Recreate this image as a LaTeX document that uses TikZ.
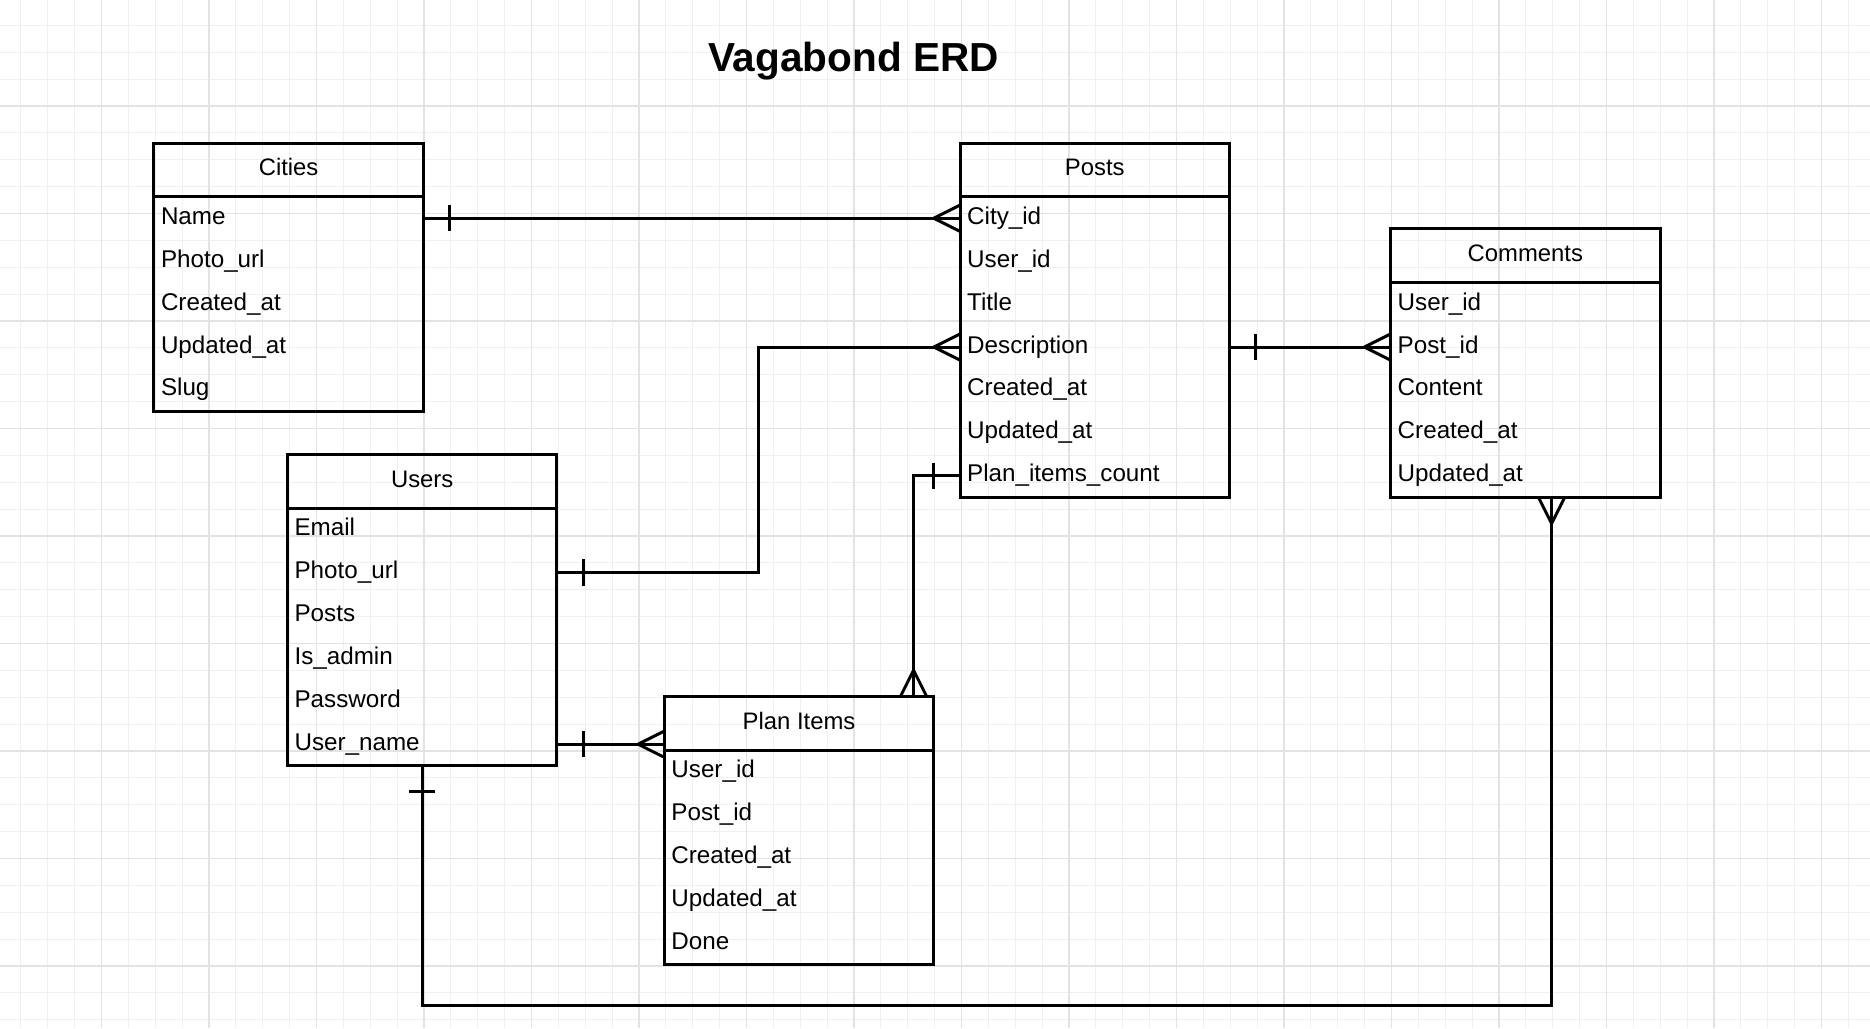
\documentclass[tikz,border=0pt]{standalone}
\usepackage{fontspec}
\setmainfont{Liberation Sans}
\usetikzlibrary{positioning,calc}

\tikzset{
  entity/.style={draw, line width=2.5pt, minimum width=226pt, minimum height=45pt,
    inner sep=0pt, outer sep=0pt, text height=14pt, text depth=4pt,
    font=\fontsize{20}{24}\selectfont},
  field/.style={text width=214pt, align=left, inner xsep=6pt, inner ysep=0pt,
    outer sep=0pt, minimum height=36pt, text height=14pt, text depth=4pt,
    font=\fontsize{20.3}{24}\selectfont},
  rel/.style={line width=2.5pt},
  gridminor/.style={line width=0.8pt, black!6},
  gridmajor/.style={line width=0.9pt, black!11},
  crow/.pic={\draw[rel] (-22,0) -- (0,11) (-22,0) -- (0,-11);},
  one/.pic={\draw[rel] (-22,-11) -- (-22,11);},
}

\begin{document}
\begin{tikzpicture}[x=1pt, y=-1pt]
        \useasboundingbox (0,0) rectangle (1568,862);
        \fill[white] (0,0) rectangle (1568,862);

        % background grid
        \foreach \i in {0,...,68} \draw[gridminor] ({17.5+22.535*\i},0) -- ({17.5+22.535*\i},862);
        \foreach \i in {1,...,38} \draw[gridminor] (0,{-1.26+22.535*\i}) -- (1568,{-1.26+22.535*\i});
        \foreach \i in {0,...,16} \draw[gridmajor] ({85.1+90.14*\i},0) -- ({85.1+90.14*\i},862);
        \foreach \i in {0,...,8} \draw[gridmajor] (0,{88.88+90.14*\i}) -- (1568,{88.88+90.14*\i});

        \node[font=\fontsize{34}{40}\selectfont\bfseries, anchor=base] (title) at (715.5,60) {Vagabond ERD};

        % Cities
        \node[entity] (cities) at (242,142.5) {Cities};
        \node[field, below=0pt of cities] (c1) {Name};
        \node[field, below=0pt of c1] (c2) {Photo\_url};
        \node[field, below=0pt of c2] (c3) {Created\_at};
        \node[field, below=0pt of c3] (c4) {Updated\_at};
        \node[field, below=0pt of c4] (c5) {Slug};
        \draw[rel] (cities.south west) rectangle (c5.south east);

        % Posts
        \node[entity] (posts) at (918,142.5) {Posts};
        \node[field, below=0pt of posts] (p1) {City\_id};
        \node[field, below=0pt of p1] (p2) {User\_id};
        \node[field, below=0pt of p2] (p3) {Title};
        \node[field, below=0pt of p3] (p4) {Description};
        \node[field, below=0pt of p4] (p5) {Created\_at};
        \node[field, below=0pt of p5] (p6) {Updated\_at};
        \node[field, below=0pt of p6] (p7) {Plan\_items\_count};
        \draw[rel] (posts.south west) rectangle (p7.south east);

        % Comments
        \node[entity] (comments) at (1279,214.5) {Comments};
        \node[field, below=0pt of comments] (m1) {User\_id};
        \node[field, below=0pt of m1] (m2) {Post\_id};
        \node[field, below=0pt of m2] (m3) {Content};
        \node[field, below=0pt of m3] (m4) {Created\_at};
        \node[field, below=0pt of m4] (m5) {Updated\_at};
        \draw[rel] (comments.south west) rectangle (m5.south east);

        % Users
        \node[entity] (users) at (354,403.5) {Users};
        \node[field, below=0pt of users] (u1) {Email};
        \node[field, below=0pt of u1] (u2) {Photo\_url};
        \node[field, below=0pt of u2] (u3) {Posts};
        \node[field, below=0pt of u3] (u4) {Is\_admin};
        \node[field, below=0pt of u4] (u5) {Password};
        \node[field, below=0pt of u5] (u6) {User\_name};
        \draw[rel] (users.south west) rectangle (u6.south east);

        % Plan Items
        \node[entity] (items) at (670,606.5) {Plan Items};
        \node[field, below=0pt of items] (i1) {User\_id};
        \node[field, below=0pt of i1] (i2) {Post\_id};
        \node[field, below=0pt of i2] (i3) {Created\_at};
        \node[field, below=0pt of i3] (i4) {Updated\_at};
        \node[field, below=0pt of i4] (i5) {Done};
        \draw[rel] (items.south west) rectangle (i5.south east);

        % relations
        \draw[rel] (c1.east) -- (p1.west);
        \pic[rotate=180] at (c1.east) {one};
        \pic at (p1.west) {crow};

        \draw[rel] (u2.east) -- ++(169,0) |- (p4.west);
        \pic[rotate=180] at (u2.east) {one};
        \pic at (p4.west) {crow};

        \draw[rel] (p4.east) -- (m2.west);
        \pic[rotate=180] at (p4.east) {one};
        \pic at (m2.west) {crow};

        \coordinate (itop) at ($(items.north east)+(-17,0)$);
        \draw[rel] (p7.west) -| (itop);
        \pic at (p7.west) {one};
        \pic[rotate=-90] at (itop) {crow};

        \coordinate (ileft) at (u6.east -| items.west);
        \draw[rel] (u6.east) -- (ileft);
        \pic[rotate=180] at (u6.east) {one};
        \pic at (ileft) {crow};

        \coordinate (mbot) at ($(m5.south)+(22,0)$);
        \draw[rel] (u6.south) -- ++(0,201) -| (mbot);
        \pic[rotate=90] at (u6.south) {one};
        \pic[rotate=90] at (mbot) {crow};
\end{tikzpicture}
\end{document}
